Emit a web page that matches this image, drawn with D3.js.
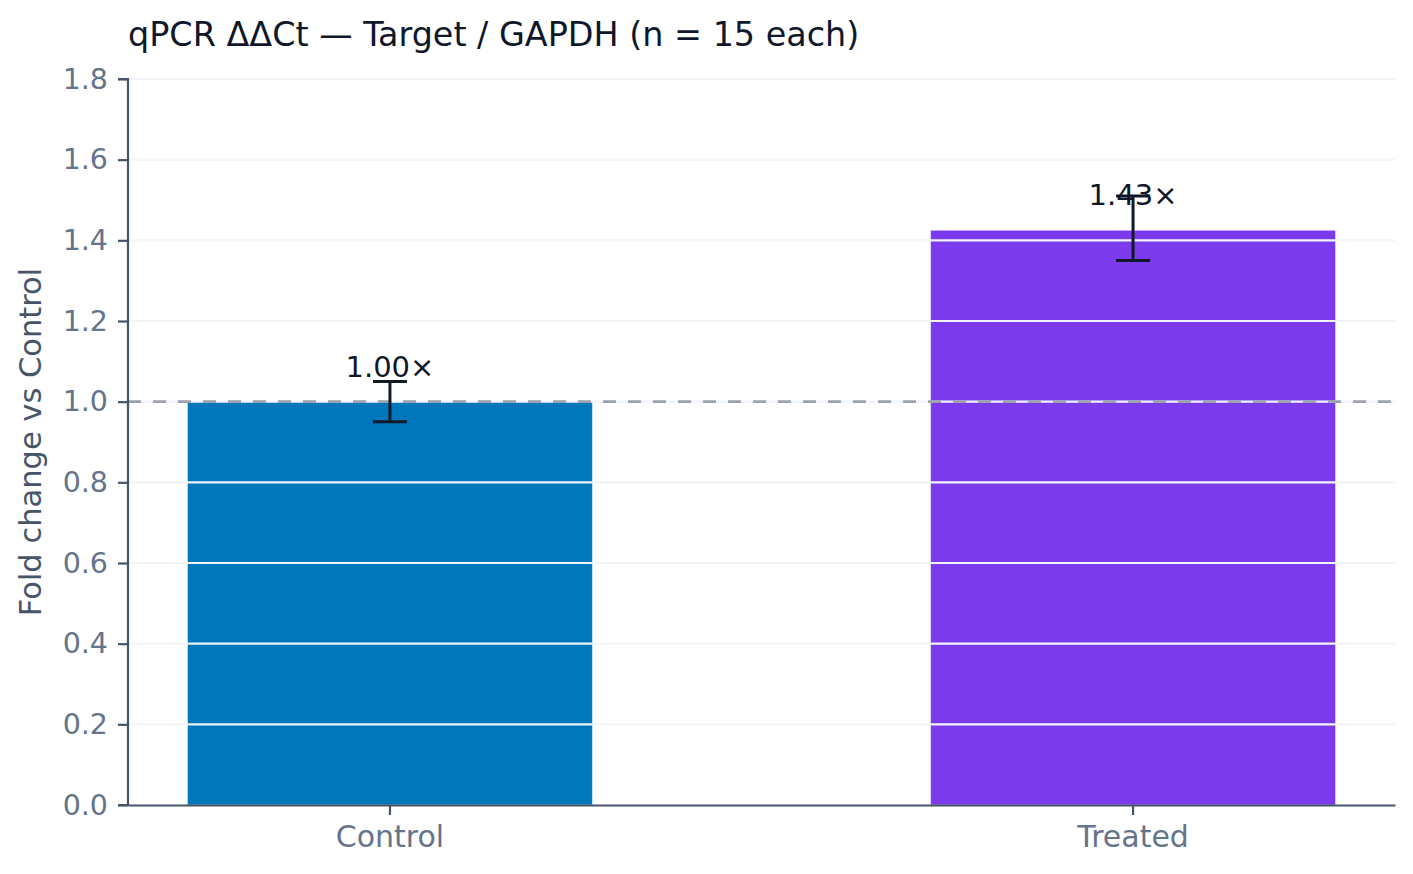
<!DOCTYPE html>
<html>
<head>
<meta charset="utf-8">
<script src="https://cdn.jsdelivr.net/npm/d3@7"></script>
<style>
  body { margin: 0; background: #fff; }
  svg { font-family: "DejaVu Sans", sans-serif; }
</style>
</head>
<body>
<script>
// data
var groups = ["Control", "Treated"];
var foldChange = [1.00, 1.425];
var errLow = [0.95, 1.35];
var errHigh = [1.05, 1.51];
var labels = ["1.00\u00d7", "1.43\u00d7"];
var barColors = ["#0077bb", "#7c3aed"];
var yTicks = [0, 0.2, 0.4, 0.6, 0.8, 1.0, 1.2, 1.4, 1.6, 1.8];

var w = 1413, h = 874;
var m = { left: 128, right: 18, top: 79, bottom: 69 };

var svg = d3.select("body").append("svg").attr("width", w).attr("height", h);

var x = d3.scaleBand().domain(groups)
    .range([m.left, w - m.right])
    .paddingInner(0.455).paddingOuter(0.08);
var y = d3.scaleLinear().domain([0, 1.8]).range([h - m.bottom, m.top]);
var cx = function(d) { return x(d) + x.bandwidth() / 2; };

// bars
svg.selectAll("rect.bar")
    .data(groups)
    .enter().append("rect")
    .attr("class", "bar")
    .attr("x", function(d) { return x(d); })
    .attr("width", x.bandwidth())
    .attr("y", function(d, i) { return y(foldChange[i]); })
    .attr("height", function(d, i) { return y(0) - y(foldChange[i]); })
    .attr("fill", function(d, i) { return barColors[i]; })
    .attr("stroke", "#ffffff")
    .attr("stroke-opacity", 0.5)
    .attr("stroke-width", 1);

// grid (drawn over the bars, very light)
svg.selectAll("line.grid")
    .data(yTicks.slice(1))
    .enter().append("line")
    .attr("class", "grid")
    .attr("x1", m.left).attr("x2", w - m.right)
    .attr("y1", function(d) { return y(d); })
    .attr("y2", function(d) { return y(d); })
    .attr("stroke", "#f1f5f9")
    .attr("stroke-width", 2.2);

// reference line at 1.0
svg.append("line")
    .attr("x1", m.left).attr("x2", w - m.right)
    .attr("y1", y(1)).attr("y2", y(1))
    .attr("stroke", "#9ca3af")
    .attr("stroke-width", 2.6)
    .attr("stroke-dasharray", "13,12");

// error bars
var eb = svg.selectAll("g.err")
    .data(groups)
    .enter().append("g")
    .attr("class", "err")
    .attr("stroke", "#111827")
    .attr("stroke-width", 3);
eb.append("line")
    .attr("x1", cx).attr("x2", cx)
    .attr("y1", function(d, i) { return y(errLow[i]); })
    .attr("y2", function(d, i) { return y(errHigh[i]); });
[errLow, errHigh].forEach(function(arr) {
    eb.append("line")
        .attr("x1", function(d) { return cx(d) - 17; })
        .attr("x2", function(d) { return cx(d) + 17; })
        .attr("y1", function(d, i) { return y(arr[i]); })
        .attr("y2", function(d, i) { return y(arr[i]); });
});

// value labels
svg.selectAll("text.val")
    .data(groups)
    .enter().append("text")
    .attr("class", "val")
    .attr("x", cx)
    .attr("y", function(d, i) { return y(foldChange[i]) - 25; })
    .attr("text-anchor", "middle")
    .attr("font-size", 29)
    .attr("fill", "#0f172a")
    .text(function(d, i) { return labels[i]; });

// axes
var yAxis = svg.append("g")
    .attr("transform", "translate(" + m.left + ",0)")
    .call(d3.axisLeft(y).tickValues(yTicks).tickFormat(d3.format(".1f")).tickSize(10).tickPadding(10));
var xAxis = svg.append("g")
    .attr("transform", "translate(0," + y(0) + ")")
    .call(d3.axisBottom(x).tickSize(10).tickPadding(11).tickSizeOuter(0));

[yAxis, xAxis].forEach(function(g) {
    g.select(".domain").attr("stroke", "#475569").attr("stroke-width", 2.2);
    g.selectAll(".tick line").attr("stroke", "#475569").attr("stroke-width", 2.2);
    g.selectAll(".tick text").attr("fill", "#64748b").attr("font-size", 28.5)
        .attr("font-family", "DejaVu Sans, sans-serif");
});
xAxis.selectAll(".tick text").attr("font-size", 30);
yAxis.select(".domain").attr("d", "M-10," + y(1.8) + "H0V" + y(0) + "H-10");

// titles
svg.append("text")
    .attr("x", m.left).attr("y", 46)
    .attr("font-size", 33.4)
    .attr("fill", "#0f172a")
    .text("qPCR \u0394\u0394Ct \u2014 Target / GAPDH (n = 15 each)");

svg.append("text")
    .attr("transform", "translate(41," + (m.top + (h - m.bottom - m.top) / 2) + ") rotate(-90)")
    .attr("text-anchor", "middle")
    .attr("font-size", 30.5)
    .attr("fill", "#475569")
    .text("Fold change vs Control");
</script>
</body>
</html>
